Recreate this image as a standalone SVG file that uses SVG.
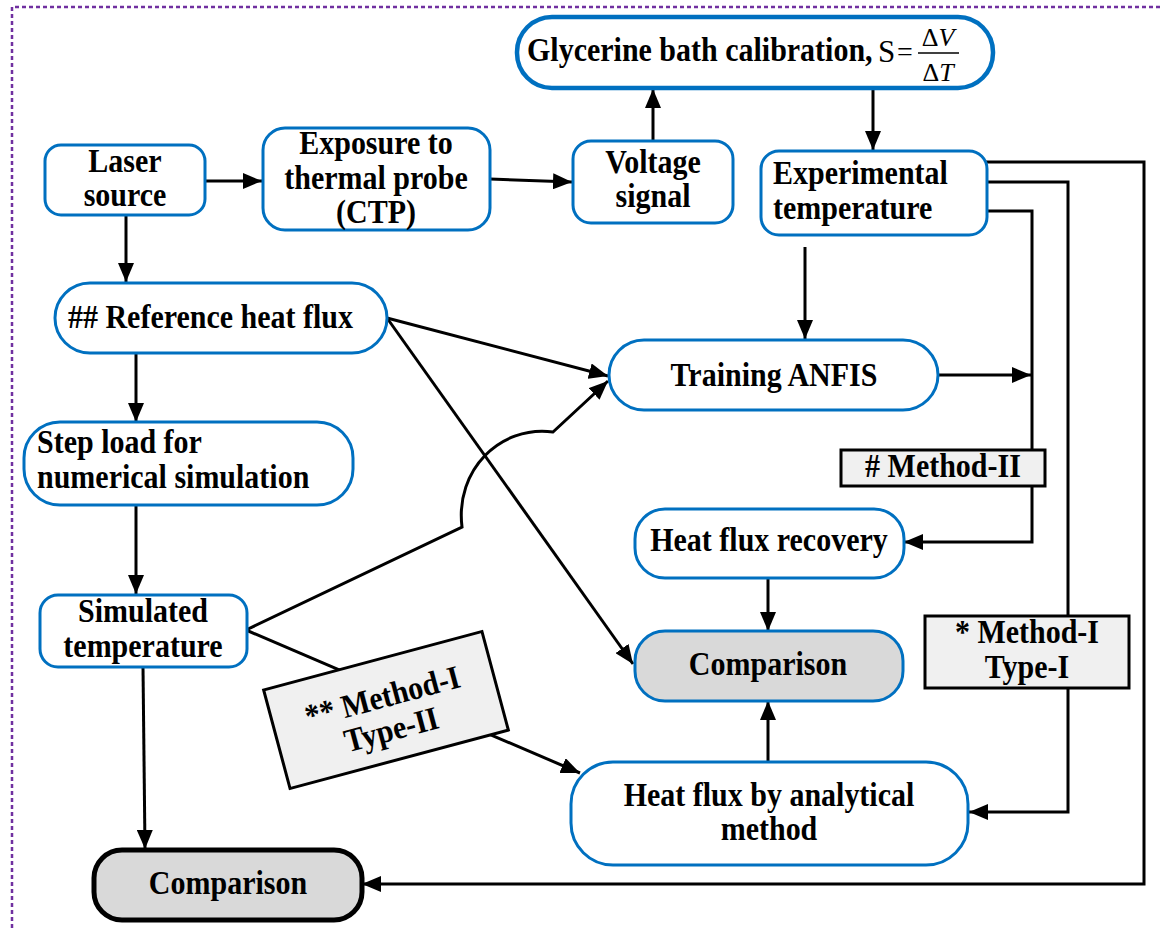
<svg xmlns="http://www.w3.org/2000/svg" width="1160" height="928" viewBox="0 0 1160 928">
  <defs>
    <marker id="arrow" markerUnits="userSpaceOnUse" markerWidth="20" markerHeight="16" refX="19" refY="8" orient="auto">
      <path d="M0,0 L19,8 L0,16 z" fill="#000"/>
    </marker>
    <style>
      .node { fill: #fff; stroke: #0070c0; stroke-width: 3; }
      .gray { fill: #d9d9d9; }
      .label { fill: #f0f0f0; stroke: #000; stroke-width: 3; }
      .t { font-family: "Liberation Serif", "Times New Roman", serif; font-weight: bold; font-size: 30px; fill: #000;
           transform-box: fill-box; transform-origin: 50% 75%; transform: scaleY(1.1); }
      .c { text-anchor: middle; }
      .m { font-family: "Liberation Serif", "Times New Roman", serif; font-size: 26px; fill: #000; }
      .link { fill: none; stroke: #000; stroke-width: 3; }
      .arr { marker-end: url(#arrow); }
      .frame { fill: none; stroke: #7030a0; stroke-width: 2.5; stroke-dasharray: 4 3; }
    </style>
  </defs>

  <rect width="1160" height="928" fill="#fff"/>

  <!-- dotted frame -->
  <path class="frame" d="M12,928 V7 H1160"/>

  <!-- connectors -->
  <g id="connectors">
    <path class="link arr" d="M205,181 H262"/>
    <path class="link arr" d="M490,179 L572,182"/>
    <path class="link arr" d="M653,141 V89"/>
    <path class="link arr" d="M873,89 V150"/>
    <path class="link arr" d="M126,215 V282"/>
    <path class="link arr" d="M136,353 V422"/>
    <path class="link arr" d="M136,505 V594"/>
    <path class="link arr" d="M143,667 L145,849"/>
    <path class="link arr" d="M805,247 V339"/>
    <path class="link arr" d="M387,318 L608,376"/>
    <path class="link arr" d="M387,318 L633,664"/>
    <path class="link arr" d="M246,630 L462,527 C455,470 500,425 553,432 L608,381"/>
    <path class="link arr" d="M246,630 L580,773"/>
    <path class="link arr" d="M768,578 V631"/>
    <path class="link arr" d="M768,762 V701"/>
    <path class="link arr" d="M938,375 H1031"/>
    <path class="link arr" d="M986,162 H1144 V884 H362"/>
    <path class="link arr" d="M986,182 H1068 V812 H969"/>
    <path class="link arr" d="M986,211 H1032 V542 H904"/>
  </g>

  <g id="laser">
    <rect class="node" x="45" y="145" width="160" height="70" rx="16"/>
    <text class="t c" x="125" y="172">Laser</text>
    <text class="t c" x="125" y="206">source</text>
  </g>

  <g id="exposure">
    <rect class="node" x="263" y="128" width="227" height="102" rx="22"/>
    <text class="t c" x="376" y="154">Exposure to</text>
    <text class="t c" x="376" y="189">thermal probe</text>
    <text class="t c" x="376" y="223">(CTP)</text>
  </g>

  <g id="voltage">
    <rect class="node" x="573" y="141" width="160" height="82" rx="18"/>
    <text class="t c" x="653" y="173">Voltage</text>
    <text class="t c" x="653" y="207">signal</text>
  </g>

  <g id="glycerine">
    <rect class="node" x="517" y="17" width="476" height="71" rx="35" style="stroke-width:4.5"/>
    <text class="t" x="527" y="61">Glycerine bath calibration,</text>
    <!-- sensitivity formula S = ΔV/ΔT -->
    <text class="m" x="878" y="62" style="font-size:31px">S</text>
    <text class="m" x="897" y="61" style="font-size:28px">=</text>
    <text class="m c" x="938" y="46">Δ<tspan font-style="italic">V</tspan></text>
    <line x1="918" y1="53" x2="959" y2="53" stroke="#000" stroke-width="1.5"/>
    <text class="m c" x="938" y="81">Δ<tspan font-style="italic">T</tspan></text>
  </g>

  <g id="experimental">
    <rect class="node" x="761" y="151" width="226" height="84" rx="18"/>
    <text class="t" x="773" y="184">Experimental</text>
    <text class="t" x="773" y="219">temperature</text>
  </g>

  <g id="reference">
    <rect class="node" x="55" y="283" width="332" height="70" rx="35"/>
    <text class="t" x="68" y="328">## Reference heat flux</text>
  </g>

  <g id="training">
    <rect class="node" x="609" y="340" width="329" height="70" rx="35"/>
    <text class="t c" x="774" y="386">Training ANFIS</text>
  </g>

  <g id="stepload">
    <rect class="node" x="24" y="422" width="329" height="83" rx="36"/>
    <text class="t" x="37" y="453">Step load for</text>
    <text class="t" x="37" y="488">numerical simulation</text>
  </g>

  <g id="simulated">
    <rect class="node" x="40" y="595" width="207" height="72" rx="18"/>
    <text class="t c" x="143" y="622">Simulated</text>
    <text class="t c" x="143" y="657">temperature</text>
  </g>

  <g id="recovery">
    <rect class="node" x="635" y="509" width="269" height="69" rx="30"/>
    <text class="t c" x="769" y="551">Heat flux recovery</text>
  </g>

  <g id="comparison-result">
    <rect class="node gray" x="635" y="631" width="268" height="70" rx="30"/>
    <text class="t c" x="768" y="675">Comparison</text>
  </g>

  <g id="analytical">
    <rect class="node" x="571" y="762" width="397" height="103" rx="42"/>
    <text class="t c" x="769" y="806">Heat flux by analytical</text>
    <text class="t c" x="769" y="840">method</text>
  </g>

  <g id="comparison-simulated">
    <rect x="94" y="850" width="268" height="70" rx="28" fill="#d9d9d9" stroke="#000" stroke-width="5"/>
    <text class="t c" x="228" y="894">Comparison</text>
  </g>

  <g id="method-2">
    <rect class="label" x="841" y="450" width="204" height="36"/>
    <text class="t c" x="943" y="477">#&#160;Method-II</text>
  </g>

  <g id="method-1-type-1">
    <rect class="label" x="925" y="616" width="204" height="72"/>
    <text class="t c" x="1027" y="643">* Method-I</text>
    <text class="t c" x="1027" y="678">Type-I</text>
  </g>

  <g id="method-1-type-2" transform="translate(386,710) rotate(-15)">
    <rect class="label" x="-113" y="-51" width="226" height="102"/>
    <text class="t c" x="0" y="-3">** Method-I</text>
    <text class="t c" x="0" y="31">Type-II</text>
  </g>
</svg>
